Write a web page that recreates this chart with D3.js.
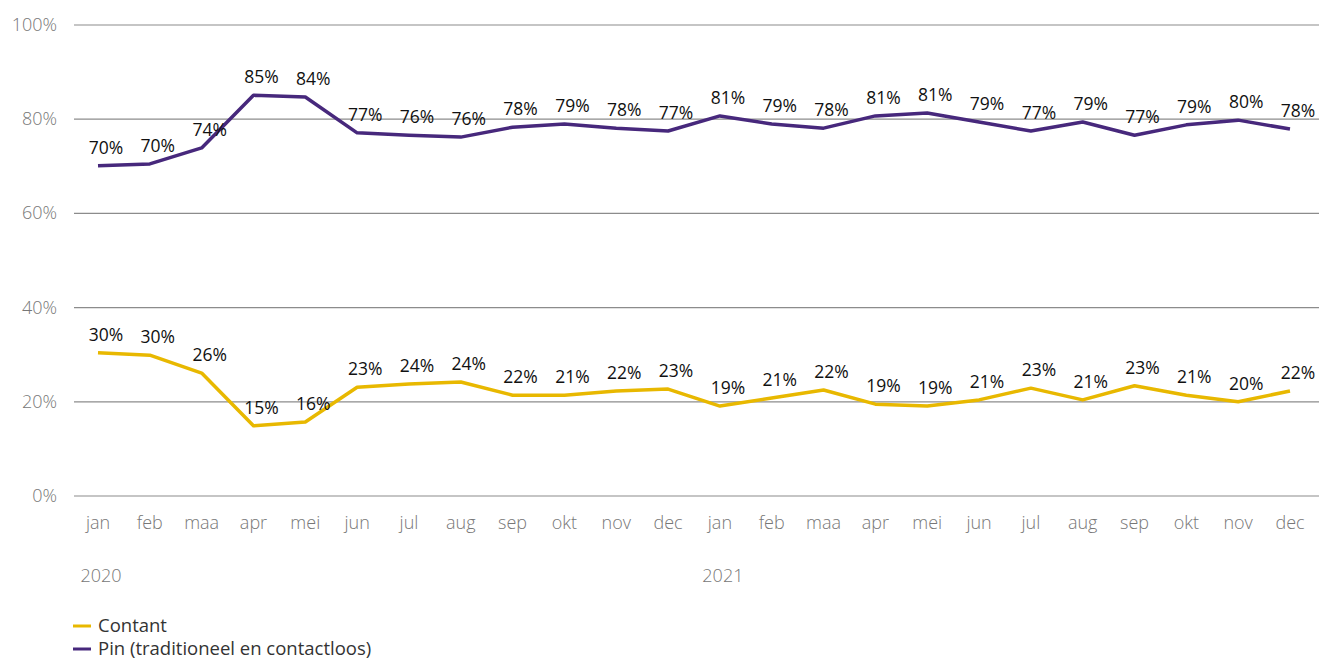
<!DOCTYPE html>
<html lang="nl">
<head>
  <meta charset="UTF-8">
  <title>Contant en pin</title>
  <script src="https://cdn.jsdelivr.net/npm/d3@7"></script>
  <style>
    body { margin: 0; background: #fff; }
    svg { display: block; font-family: "Open Sans", sans-serif; }
    .grid line { stroke: #8c8c8c; stroke-width: 1.2; }
    .tick-label { fill: #777; font-size: 18px; font-weight: 300; }
    .val { fill: #111; font-size: 17.5px; font-weight: 400; }
    .legend text { fill: #333; font-size: 18.5px; font-weight: 400; }
  </style>
</head>
<body>
  <svg width="1319" height="661"></svg>
  <script>
    const months = ['jan', 'feb', 'maa', 'apr', 'mei', 'jun', 'jul', 'aug', 'sep', 'okt', 'nov', 'dec',
      'jan', 'feb', 'maa', 'apr', 'mei', 'jun', 'jul', 'aug', 'sep', 'okt', 'nov', 'dec']
    const years = [{ label: '2020', index: 0 }, { label: '2021', index: 12 }]
    const yTicks = [0, 20, 40, 60, 80, 100]

    const pin = [70.1, 70.5, 73.9, 85.1, 84.7, 77.1, 76.6, 76.2, 78.3, 79.0, 78.1, 77.5,
      80.7, 79.0, 78.1, 80.7, 81.3, 79.4, 77.5, 79.4, 76.6, 78.8, 79.8, 77.9]
    const pinLabels = [70, 70, 74, 85, 84, 77, 76, 76, 78, 79, 78, 77,
      81, 79, 78, 81, 81, 79, 77, 79, 77, 79, 80, 78]
    const contant = [30.4, 29.9, 26.1, 14.9, 15.7, 23.1, 23.8, 24.2, 21.4, 21.4, 22.3, 22.7,
      19.1, 20.8, 22.5, 19.5, 19.1, 20.4, 22.9, 20.4, 23.4, 21.4, 20.0, 22.3]
    const contantLabels = [30, 30, 26, 15, 16, 23, 24, 24, 22, 21, 22, 23,
      19, 21, 22, 19, 19, 21, 23, 21, 23, 21, 20, 22]

    const series = [
      { name: 'Contant', color: '#e8b800', values: contant, labels: contantLabels },
      { name: 'Pin (traditioneel en contactloos)', color: '#47287c', values: pin, labels: pinLabels }
    ]

    const svg = d3.select('svg')

    const x = d3.scalePoint()
      .domain(d3.range(months.length))
      .range([98, 1290])

    const y = d3.scaleLinear()
      .domain([0, 100])
      .range([496, 25])

    // gridlines
    const grid = svg.append('g').attr('class', 'grid')
    grid.selectAll('line')
      .data(yTicks)
      .enter()
      .append('line')
      .attr('x1', 74)
      .attr('x2', 1319)
      .attr('y1', d => y(d))
      .attr('y2', d => y(d))

    svg.append('g').selectAll('text')
      .data(yTicks)
      .enter()
      .append('text')
      .attr('class', 'tick-label')
      .attr('x', 57)
      .attr('y', d => y(d) + 6)
      .attr('text-anchor', 'end')
      .text(d => d + '%')

    // month labels
    svg.append('g').selectAll('text')
      .data(months)
      .enter()
      .append('text')
      .attr('class', 'tick-label')
      .attr('x', (d, i) => x(i))
      .attr('y', 529)
      .attr('text-anchor', 'middle')
      .text(d => d)

    svg.append('g').selectAll('text')
      .data(years)
      .enter()
      .append('text')
      .attr('class', 'tick-label')
      .attr('x', d => x(d.index) + 3)
      .attr('y', 582)
      .attr('text-anchor', 'middle')
      .text(d => d.label)

    const line = d3.line()
      .x((d, i) => x(i))
      .y(d => y(d))

    series.forEach(s => {
      svg.append('path')
        .datum(s.values)
        .attr('fill', 'none')
        .attr('stroke', s.color)
        .attr('stroke-width', 3.5)
        .attr('stroke-linejoin', 'round')
        .attr('d', line)

      svg.append('g').selectAll('text')
        .data(s.values)
        .enter()
        .append('text')
        .attr('class', 'val')
        .attr('x', (d, i) => x(i) + 8)
        .attr('y', d => y(d) - 12)
        .attr('text-anchor', 'middle')
        .text((d, i) => s.labels[i] + '%')
    })

    // legend
    const legend = svg.append('g').attr('class', 'legend')
    series.forEach((s, i) => {
      const ly = 626 + i * 23
      legend.append('line')
        .attr('x1', 73).attr('x2', 91)
        .attr('y1', ly).attr('y2', ly)
        .attr('stroke', s.color)
        .attr('stroke-width', 3)
      legend.append('text')
        .attr('x', 98)
        .attr('y', ly + 6)
        .text(s.name)
    })
  </script>
</body>
</html>
